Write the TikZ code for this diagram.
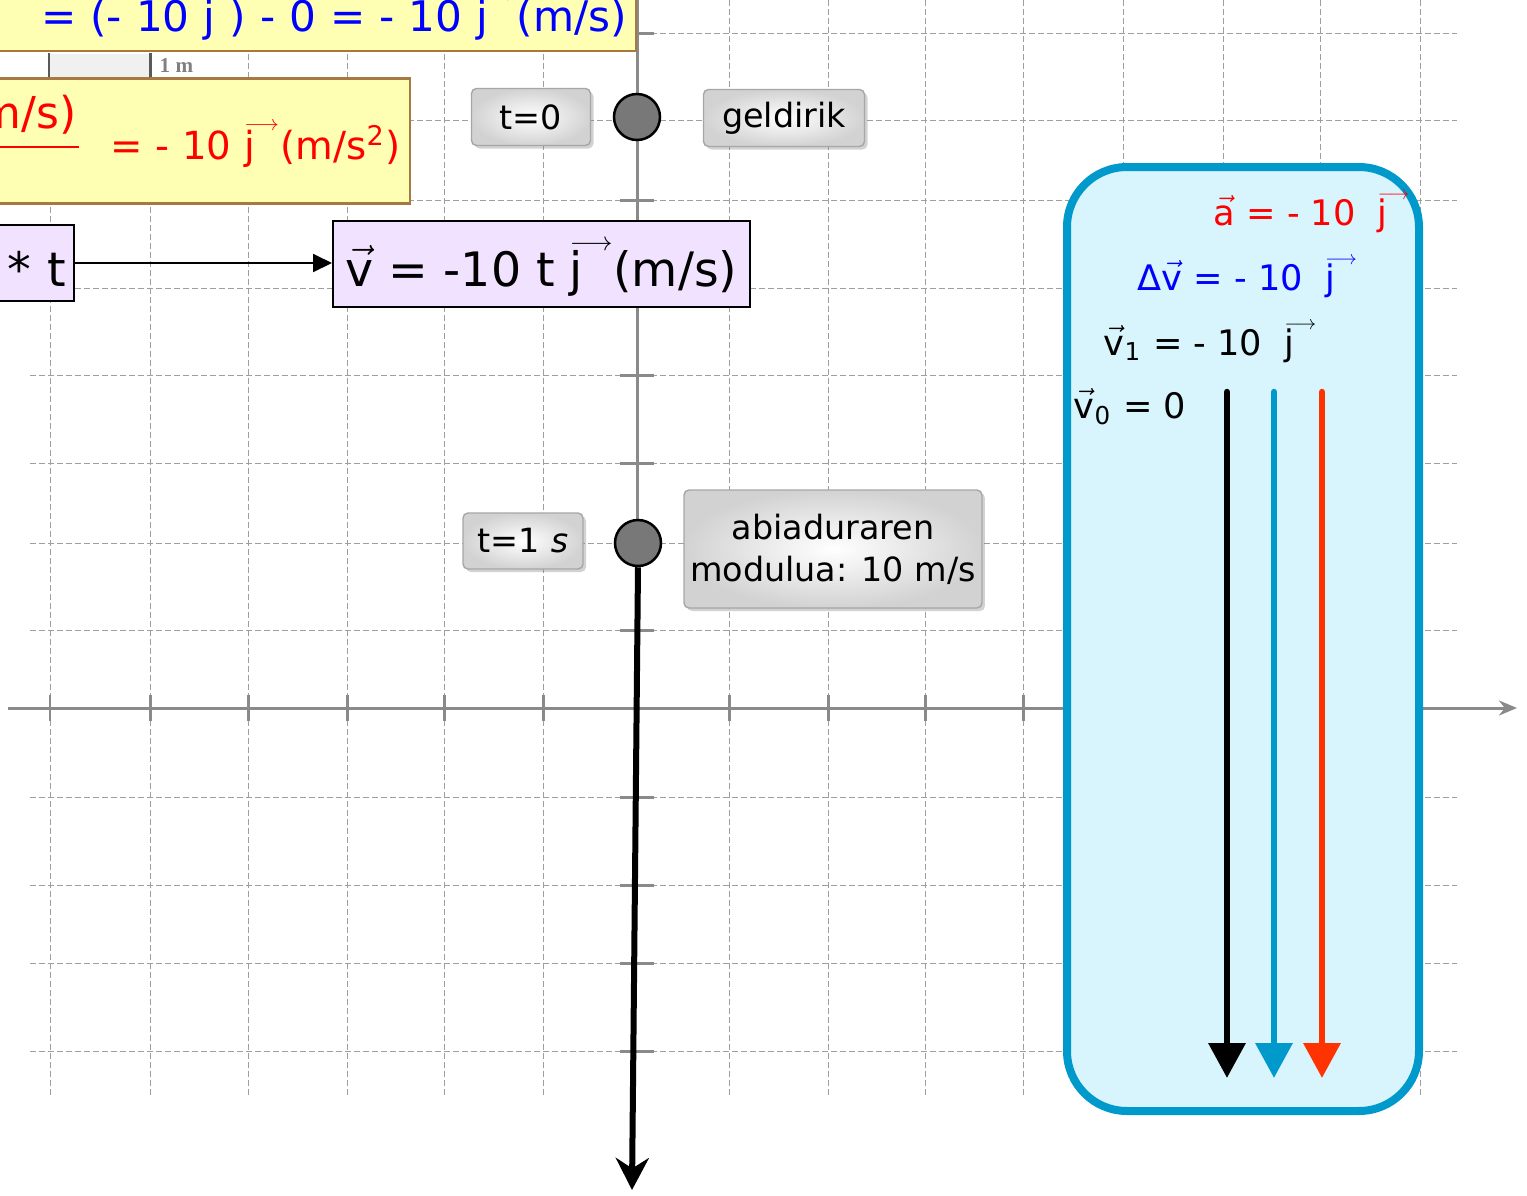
\documentclass[tikz,border=0pt]{standalone}
\usepackage{fontspec}
\newfontfamily\comic{DejaVu Sans}
\newfontfamily\barfont{Liberation Serif}
\usetikzlibrary{arrows.meta,shadows}
\definecolor{yfill}{HTML}{FFFFB3}
\definecolor{yline}{HTML}{A8793F}
\definecolor{pfill}{HTML}{F1E2FF}
\definecolor{cyanfill}{HTML}{D8F4FD}
\definecolor{cyanline}{HTML}{0099CC}
\definecolor{vred}{HTML}{FF3300}
\definecolor{axisgray}{HTML}{8A8A8A}
\definecolor{dotgray}{HTML}{787878}
\newcommand\vecof[1]{\ensuremath{\vec{\mbox{#1}}}}
\newcommand\vj{\mbox{\rlap{\raisebox{0.74em}{\resizebox{0.9em}{!}{$\longrightarrow$}}}j}}
\begin{document}
\begin{tikzpicture}[x=0.1mm,y=-0.1mm,font=\comic,>=Stealth,
  gridline/.style={gray!75,line width=0.1mm,dash pattern=on 0.6mm off 0.3mm},
  axis/.style={axisgray,line width=0.3mm},
  ybox/.style={draw=yline,fill=yfill,line width=0.25mm,inner ysep=0pt,inner xsep=0.9mm},
  pbox/.style={draw=black,fill=pfill,line width=0.2mm,inner ysep=0pt,inner xsep=0.8mm,font=\comic\fontsize{13.5}{16}\selectfont},
  tag/.style={draw=gray!70,rounded corners=0.5mm,inner color=white,outer color=gray!35,
    drop shadow={opacity=0.35,shadow xshift=0.3mm,shadow yshift=-0.3mm},
    font=\comic\fontsize{9.5}{12}\selectfont,align=center,inner sep=0pt},
  dot/.style={circle,draw=black,fill=dotgray,line width=0.25mm,minimum size=4.6mm,inner sep=0pt},
  panelrow/.style={anchor=base west,inner sep=0pt,font=\comic\fontsize{10}{12}\selectfont},
  vecline/.style={line width=0.65mm,line cap=round,-{Triangle[width=3.6mm,length=3.5mm]}}]
\useasboundingbox (0,0) rectangle (1527,1196);
\clip (0,0) rectangle (1527,1196);
\fill[white] (0,0) rectangle (1527,1196);
\foreach \gx in {50,150,248,347,444,543,729,828,925,1023,1123,1223,1320,1420}
  \draw[gridline] (\gx,0) -- (\gx,1097);
\foreach \gy in {33,120,200,288,375,463,543,630,797,885,963,1051}
  \draw[gridline] (30,\gy) -- (1457,\gy);
\draw[axis,-{Stealth[length=1.8mm,width=1.5mm]}] (8,708) -- (1517,708);
\draw[axis] (637,0) -- (637,543);
\foreach \gx in {50,150,248,347,444,543,729,828,925,1023,1123,1223,1320}
  \draw[axis] (\gx,695) -- (\gx,721);
\foreach \gy in {33,200,288,375,463,630,797,885,963,1051}
  \draw[axis] (620,\gy) -- (654,\gy);

\node[ybox,anchor=south east,text width=66mm,align=right,text height=6.1mm,text depth=1.9mm,
  text=blue,font=\comic\fontsize{12}{15}\selectfont] (dvbox) at (637,52)
  {\mbox{= (- 10 \vj\ ) - 0 = - 10 \vj\ \ (m/s)}};
\node[fill=gray!12,minimum width=10mm,minimum height=2.4mm,inner sep=0pt,anchor=north west] (scalebar) at (49,53) {};
\draw[gray!70!black,line width=0.25mm] (scalebar.north west) -- (scalebar.south west)
  (scalebar.north east) -- (scalebar.south east);
\node[anchor=base west,inner sep=0pt,text=gray,font=\barfont\bfseries\fontsize{6}{7}\selectfont] (scalelbl) at (159,72) {1 m};
\node[ybox,anchor=north east,text width=42mm,align=right,text height=8.1mm,text depth=4.4mm,
  text=red,font=\comic\fontsize{11}{14}\selectfont] (accbox) at (411,77)
  {\mbox{= - 10 \vj\ \ (m/s\textsuperscript{2})}};
\node[anchor=base east,inner sep=0pt,text=red,font=\comic\fontsize{12.5}{14}\selectfont] (accnum) at (77,128) {(m/s)};
\draw[red,line width=0.25mm] ([yshift=-1.9mm]accnum.base west) -- ([yshift=-1.9mm,xshift=0.2mm]accnum.base east);

\node[pbox,anchor=north east,text width=9mm,align=right,text height=6.1mm,text depth=1.5mm] (tbox) at (75,224) {* t};
\node[pbox,anchor=north west,minimum width=41.7mm,text height=6.5mm,text depth=2.1mm] (vbox) at (332,220)
  {\vecof{v} = -10 t \vj\ \ (m/s)};
\draw[line width=0.2mm,-{Triangle[length=1.9mm,width=1.8mm]}] (tbox.east) -- (tbox.east -| vbox.west);

\node[tag,minimum width=11.9mm,minimum height=5.7mm] (t0) at (531,117) {t=0};
\node[dot] (p0) at (637,117) {};
\node[tag,minimum width=16.1mm,minimum height=5.7mm] (still) at (784,118) {geldirik};
\node[tag,minimum width=12mm,minimum height=5.6mm] (t1) at (523,541) {t=1 \textit{s}};
\node[dot] (p1) at (638,543) {};
\node[tag,minimum width=29.8mm,minimum height=11.8mm] (speed) at (833,549) {abiaduraren\\modulua: 10 m/s};
\coordinate (fall) at (632,1190);
\draw[line width=0.6mm,-{Stealth[length=3.2mm,width=3.3mm]}] (p1.south) -- (fall);

\node[draw=cyanline,fill=cyanfill,line width=0.8mm,rounded corners=6mm,minimum width=35.2mm,
  minimum height=94.4mm,inner sep=0pt] (panel) at (1243,639) {};
\node[panelrow,text=red] (acc) at (1213,225) {\vecof{a} = - 10 \ \vj};
\node[panelrow,text=blue] (dv) at (1137,290) {Δ\vecof{v} = - 10 \ \vj};
\node[panelrow] (v1) at (1103,355) {\vecof{v}\textsubscript{1} = - 10 \ \vj};
\node[panelrow] (v0) at (1073,418) {\vecof{v}\textsubscript{0} = 0};
\coordinate (k0) at (1227,392); \coordinate (k1) at (1227,1078);
\coordinate (b0) at (1274,392); \coordinate (b1) at (1274,1078);
\coordinate (r0) at (1322,392); \coordinate (r1) at (1322,1078);
\draw[vecline,black] (k0) -- (k1);
\draw[vecline,cyanline] (b0) -- (b1);
\draw[vecline,vred] (r0) -- (r1);
\end{tikzpicture}
\end{document}
